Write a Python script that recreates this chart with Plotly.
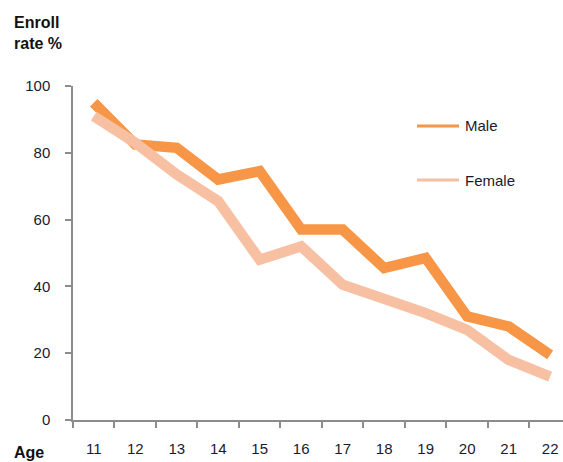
import plotly.graph_objects as go

ages = ["11", "12", "13", "14", "15", "16", "17", "18", "19", "20", "21", "22"]
male = [95, 82.5, 81.5, 72, 74.5, 57, 57, 45.5, 48.5, 31, 28, 19.5]
female = [91, 83, 73.5, 65.5, 48, 52, 40.5, 36.5, 32, 27, 18, 13]
y_ticks = [0, 20, 40, 60, 80, 100]
series_names = ["Male", "Female"]
colors = ["#F79646", "#F8C0A2"]

W, H = 563, 462
L, R, T, B = 73, 0, 86, 42
pw, ph = W - L - R, H - T - B

def px(x):
    return (x - L) / pw

def py(y):
    return (H - B - y) / ph

FONT = "Liberation Sans"
TXT = "#1a1a2e"

fig = go.Figure()
for name, vals, c in zip(series_names, [male, female], colors):
    fig.add_trace(go.Scatter(x=ages, y=vals, mode="lines", name=name,
                             line=dict(color=c, width=10.5), showlegend=False))

# custom legend
for i, (name, c) in enumerate(zip(series_names, colors)):
    yy = 126 + i * 54
    fig.add_shape(type="line", xref="paper", yref="paper",
                  x0=px(417), x1=px(459), y0=py(yy), y1=py(yy),
                  line=dict(color=c, width=3))
    fig.add_annotation(xref="paper", yref="paper", x=px(463), y=py(yy),
                       text=name, showarrow=False, xanchor="left", yanchor="middle",
                       font=dict(family=FONT, size=15, color=TXT))

fig.add_annotation(xref="paper", yref="paper", x=px(12), y=py(12),
                   text="<b>Enroll<br>rate %</b>", showarrow=False, align="left",
                   xanchor="left", yanchor="top",
                   font=dict(family=FONT, size=16, color="#111"))
fig.add_annotation(xref="paper", yref="paper", x=px(12), y=py(452),
                   text="<b>Age</b>", showarrow=False, xanchor="left", yanchor="middle",
                   font=dict(family=FONT, size=16, color="#111"))

fig.update_layout(
    width=W, height=H, margin=dict(l=L, r=R, t=T, b=B),
    paper_bgcolor="white", plot_bgcolor="white",
    font=dict(family=FONT, size=15, color=TXT),
    xaxis=dict(type="category", range=[-0.5, 11.31], tickson="boundaries",
               showline=True, linecolor="#8c8c8c", linewidth=1.5,
               ticks="outside", ticklen=6, tickcolor="#8c8c8c", tickwidth=1.5,
               showgrid=False, zeroline=False, ticklabelstandoff=14),
    yaxis=dict(range=[0, 100], tickvals=y_ticks, showline=True,
               linecolor="#8c8c8c", linewidth=1.5, ticks="outside", ticklen=6,
               tickcolor="#8c8c8c", tickwidth=1.5, showgrid=False, zeroline=False,
               ticklabelstandoff=12),
)

fig.write_html("out.html", config={"displayModeBar": False},
               post_script="document.body.style.margin='0';document.body.style.overflow='hidden';")
